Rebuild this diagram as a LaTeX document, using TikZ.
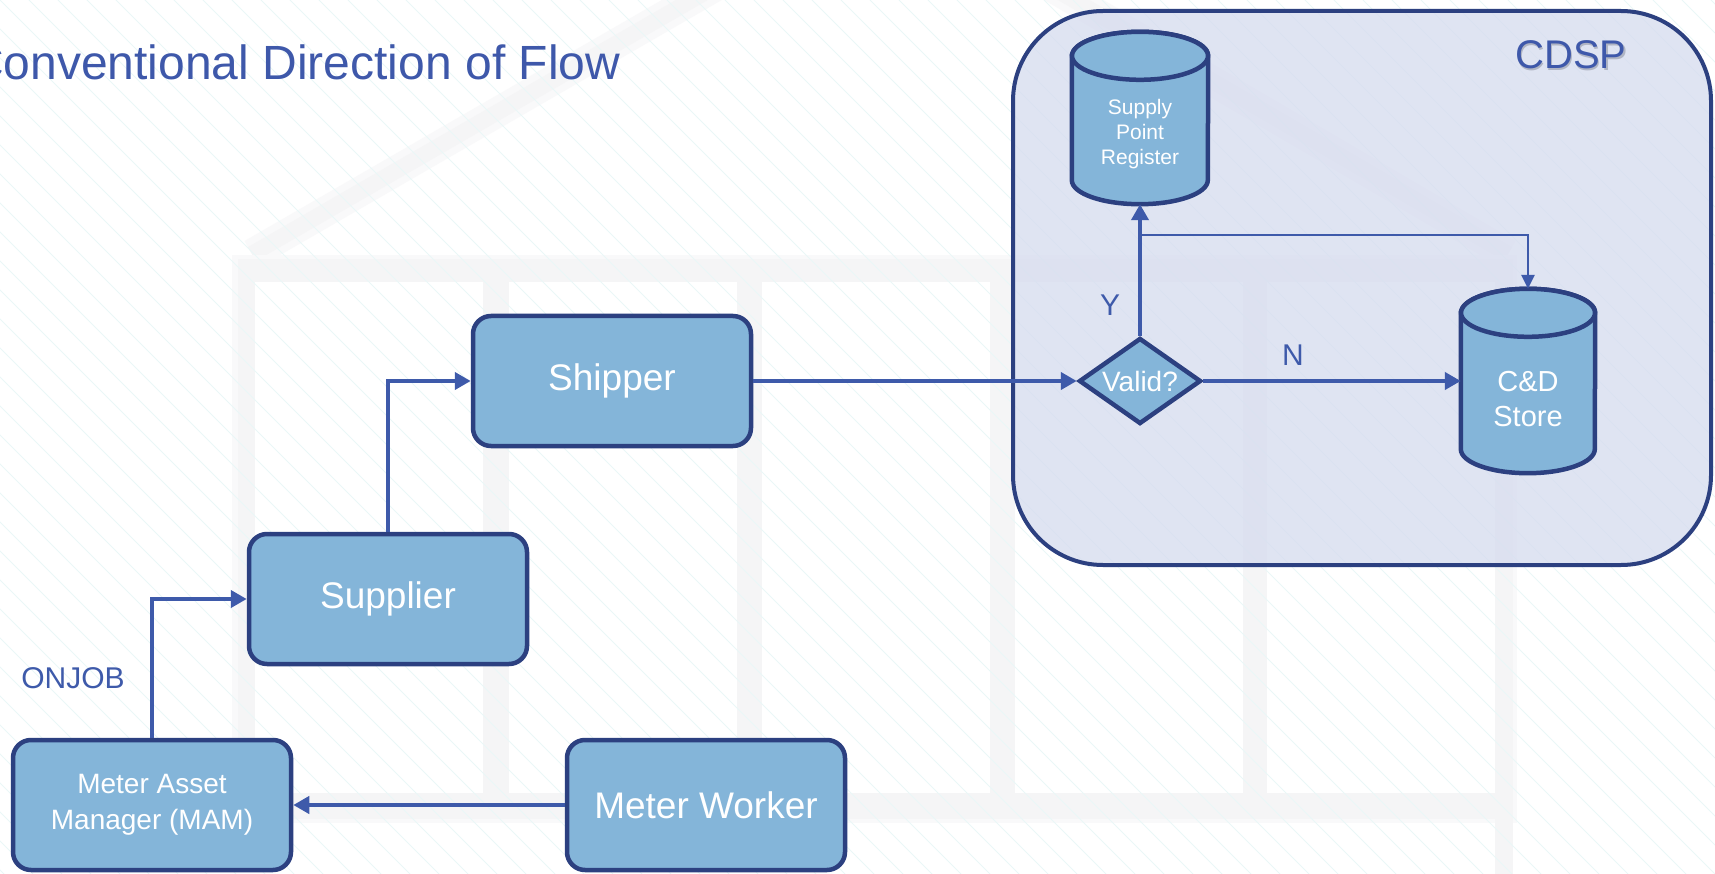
\documentclass[tikz,border=0pt]{standalone}
\usepackage{fontspec}
\setmainfont{Liberation Sans}
\usetikzlibrary{arrows.meta,shapes.geometric,calc}

\definecolor{boxfill}{RGB}{132,181,217}
\definecolor{boxline}{RGB}{44,64,128}
\definecolor{flow}{RGB}{62,90,170}
\definecolor{titleblue}{RGB}{62,88,170}
\definecolor{panel}{RGB}{212,218,238}
\definecolor{ghost}{RGB}{245,245,246}
\definecolor{ghostsoft}{RGB}{249,249,250}
\definecolor{hatch}{RGB}{234,247,247}
\definecolor{shade}{RGB}{120,125,140}

% cylinder drawn around a (borderless) rectangle node: #1 node, #2 x radius, #3 y radius
\newcommand\drawdrum[3]{%
  \draw[drum] ($(#1.north west)+(0,-#3)$) -- ($(#1.south west)+(0,#3)$)
     arc[start angle=180,end angle=360,x radius=#2,y radius=#3]
     -- ($(#1.north east)+(0,-#3)$)
     arc[start angle=0,end angle=180,x radius=#2,y radius=#3] -- cycle;
  \draw[drum] ($(#1.north)+(0,-#3)$) ellipse[x radius=#2,y radius=#3];
}

\begin{document}
\begin{tikzpicture}[x=1pt,y=1pt,
  proc/.style={rectangle, rounded corners=18pt, draw=boxline, line width=4.5pt,
    fill=boxfill, minimum width=278pt, minimum height=130pt, text=white,
    align=center, inner sep=0pt},
  bigtext/.style={font=\fontsize{37}{44}\selectfont},
  smalltext/.style={font=\fontsize{28}{36}\selectfont},
  decision/.style={diamond, aspect=1.4, draw=boxline, line width=4.5pt, fill=boxfill,
    minimum width=122pt, minimum height=86pt, inner sep=0pt, text=white,
    font=\fontsize{28}{34}\selectfont},
  drumbox/.style={rectangle, inner sep=0pt},
  drum/.style={draw=boxline, line width=4.5pt, fill=boxfill},
  drumtext/.style={text=white, align=center, inner sep=0pt},
  container/.style={rectangle, rounded corners=90pt, draw=boxline, line width=4pt,
    fill=panel, fill opacity=0.72, draw opacity=1, minimum width=698pt, minimum height=554pt},
  tag/.style={text=flow, font=\fontsize{30}{36}\selectfont, inner sep=0pt},
  flowline/.style={draw=flow, line width=4pt, -{Triangle[length=16pt,width=17pt]}},
  thinflow/.style={draw=flow, line width=2.6pt, -{Triangle[length=14pt,width=13pt]}},
  hatchline/.style={draw=hatch, line width=1pt},
]
\useasboundingbox (0,0) rectangle (1715,-874);
\fill[white] (0,0) rectangle (1715,-874);

% faint building watermark behind the chart
\begin{scope}
  \clip (0,0) rectangle (1715,-874);
  \draw[ghostsoft, line width=30pt] (252,-254) -- (884,111) -- (1508,-254);
  \draw[ghost, line width=16pt] (252,-254) -- (884,111) -- (1508,-254);
  \fill[ghostsoft] (232,-255) rectangle (1517,-823);
  \fill[ghost] (238,-259) rectangle (1513,-819);
  \fill[ghost] (1495,-819) rectangle (1513,-874);
  \foreach \px in {255,509,762,1015,1267}
    \fill[white] (\px,-282) rectangle ++(228,-511);
  % diagonal background hatching
  \foreach \k in {-31,...,60}
    \draw[hatchline] (\k*29,0) -- ++(874,-874);
\end{scope}

% CDSP boundary
\node[container] (cdsp) at (1362,-288) {};
\node[text=shade, opacity=0.45, font=\fontsize{40}{48}\selectfont, inner sep=0pt]
  (cdspshadow) at (1572.5,-57) {CDSP};
\node[text=titleblue, font=\fontsize{40}{48}\selectfont, inner sep=0pt] (cdsplabel) at (1571,-55) {CDSP};

% title
\node[anchor=base west, text=titleblue, font=\fontsize{48}{56}\selectfont, inner sep=0pt]
  (title) at (-31,-80) {Conventional Direction of Flow};

% process boxes
\node[proc, bigtext] (shipper) at (612,-381) {Shipper};
\node[proc, bigtext] (supplier) at (388,-599) {Supplier};
\node[proc, smalltext] (mam) at (152,-805) {Meter Asset\\Manager (MAM)};
\node[proc, bigtext] (worker) at (706,-805) {Meter Worker};

% decision
\node[decision] (valid) at (1140,-381) {Valid?};

% data stores
\node[drumbox, minimum width=136pt, minimum height=172pt] (spr) at (1140,-118) {};
\drawdrum{spr}{68}{24}
\node[drumtext, font=\fontsize{21}{25}\selectfont] (sprlabel) at (1140,-134) {Supply\\Point\\Register};

\node[drumbox, minimum width=134pt, minimum height=184pt] (cd) at (1528,-381) {};
\drawdrum{cd}{67}{24}
\node[drumtext, font=\fontsize{29}{35}\selectfont] (cdlabel) at (1528,-399) {C\&D\\Store};

% connectors
\draw[flowline] (shipper.east) -- (valid.west);
\draw[flowline] (valid.east) -- (cd.west);
\draw[flowline] (valid.north) -- (spr.south);
\coordinate (fork) at (1140,-235);
\draw[thinflow] (fork) -| (cd.north);
\draw[flowline] (supplier.north) |- (shipper.west);
\draw[flowline] (mam.north) |- (supplier.west);
\draw[flowline] (worker.west) -- (mam.east);

% connector labels
\node[tag] (ylab) at (1110,-305) {Y};
\node[tag] (nlab) at (1293,-355) {N};
\node[tag] (onjob) at (73,-678) {ONJOB};
\end{tikzpicture}
\end{document}
